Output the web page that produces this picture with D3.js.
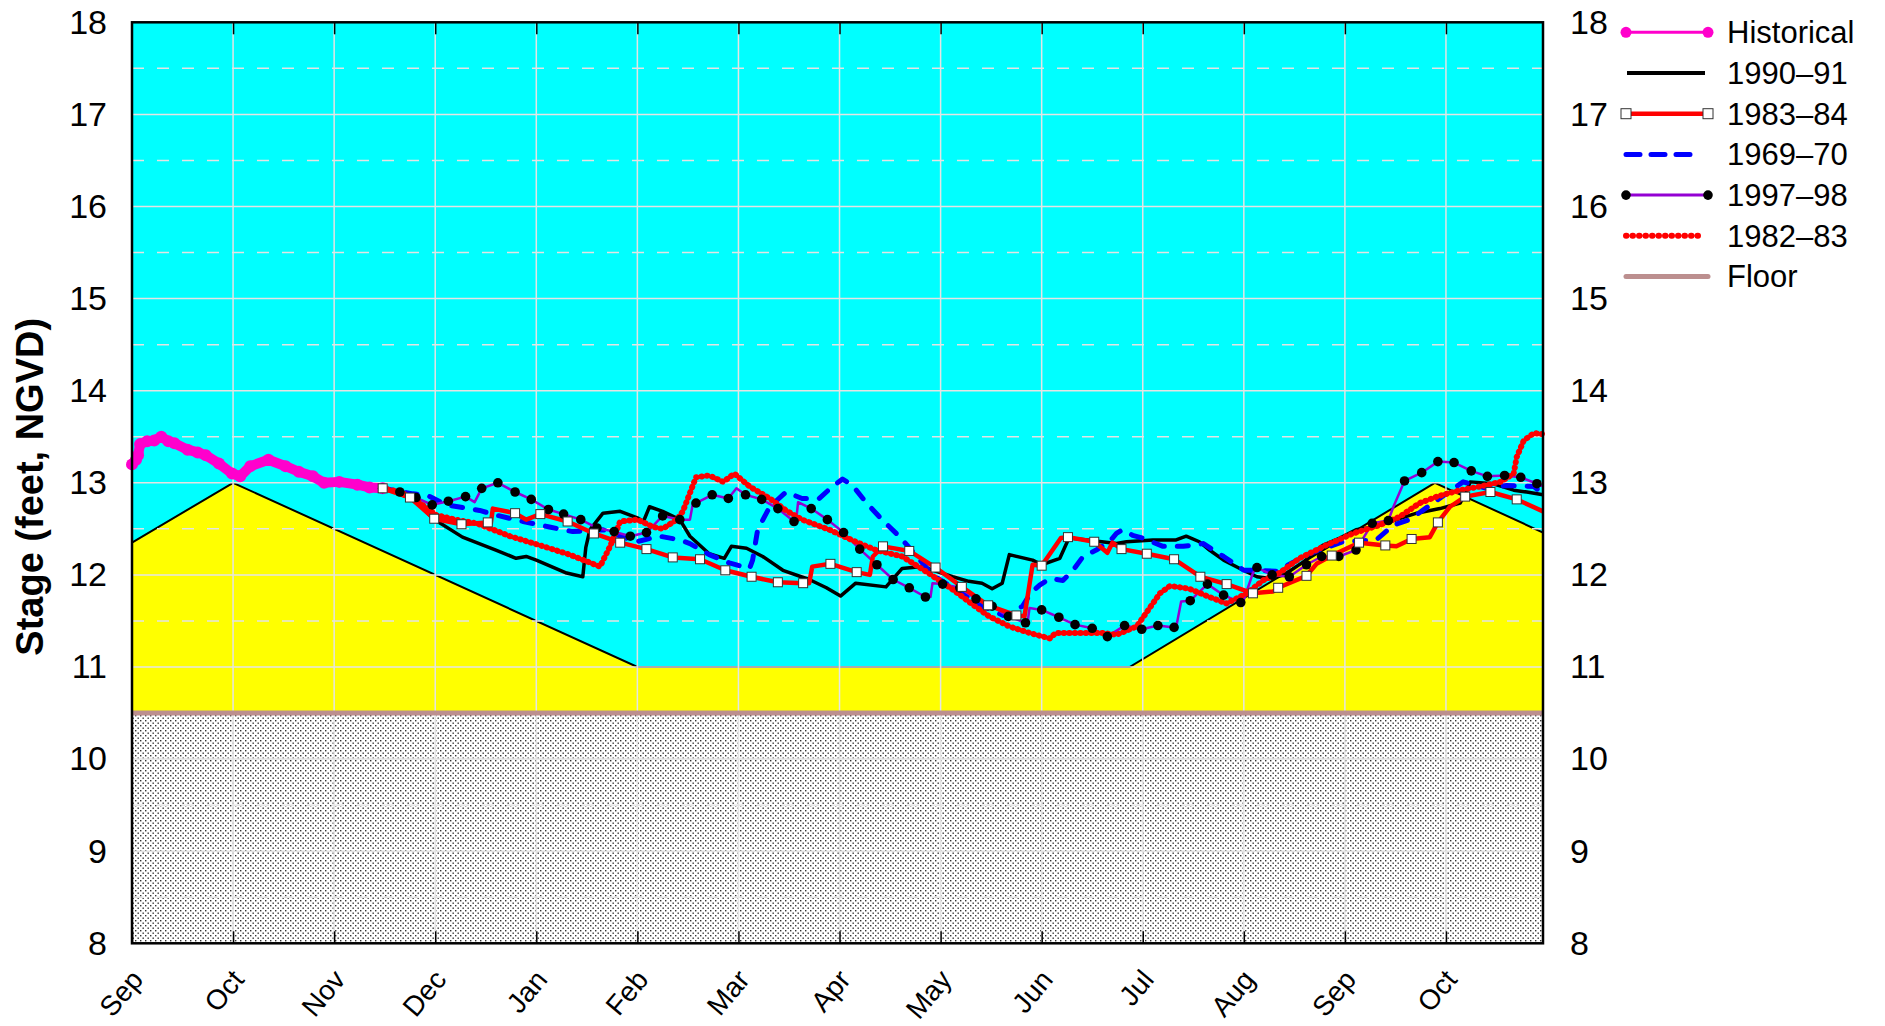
<!DOCTYPE html>
<html>
<head>
<meta charset="utf-8">
<script src="https://cdn.jsdelivr.net/npm/d3@7"></script>
<style>
  body { margin: 0; background: #fff; }
  svg text { font-family: "Liberation Sans", Arial, sans-serif; fill: #000; }
</style>
</head>
<body>
<div id="chart"></div>
<script>
// month index: 0 = 1 Sep, 1 = 1 Oct, ... (14 months shown)
const months = ["Sep", "Oct", "Nov", "Dec", "Jan", "Feb", "Mar", "Apr", "May", "Jun", "Jul", "Aug", "Sep", "Oct"];
const stageTicks = [8, 9, 10, 11, 12, 13, 14, 15, 16, 17, 18];
const floorStage = 10.5;

// regulation schedule (top of yellow zone)
const ruleCurve = [[0, 12.35], [1, 13], [5, 11], [9.87, 11], [12.89, 13], [13.96, 12.46]];

const historical = [[0.0, 13.2], [0.04, 13.25], [0.06, 13.3], [0.08, 13.42], [0.15, 13.45], [0.22, 13.46],
	[0.29, 13.5], [0.36, 13.45], [0.42, 13.43], [0.55, 13.36], [0.65, 13.33], [0.73, 13.3], [0.86, 13.21],
	[0.99, 13.1], [1.07, 13.07], [1.17, 13.18], [1.35, 13.25], [1.52, 13.18], [1.65, 13.12], [1.79, 13.07],
	[1.9, 13.0], [2.05, 13.01], [2.23, 12.98], [2.35, 12.95], [2.48, 12.94]];

const y9091 = [[2.48, 12.94], [2.65, 12.88], [2.81, 12.8], [2.98, 12.61], [3.27, 12.41], [3.6, 12.27],
	[3.8, 12.18], [3.9, 12.2], [4.0, 12.16], [4.3, 12.02], [4.46, 11.98], [4.49, 12.3], [4.53, 12.49],
	[4.66, 12.67], [4.83, 12.69], [5.0, 12.62], [5.06, 12.58], [5.12, 12.74], [5.25, 12.69], [5.42, 12.6],
	[5.52, 12.42], [5.71, 12.23], [5.86, 12.18], [5.93, 12.31], [6.08, 12.29], [6.24, 12.2], [6.44, 12.05],
	[6.7, 11.95], [6.87, 11.86], [7.01, 11.77], [7.16, 11.91], [7.46, 11.87], [7.62, 12.07], [7.82, 12.09],
	[8.12, 11.98], [8.28, 11.93], [8.41, 11.91], [8.51, 11.85], [8.61, 11.91], [8.68, 12.22], [8.91, 12.16],
	[9.0, 12.11], [9.18, 12.18], [9.27, 12.4], [9.45, 12.38], [9.74, 12.34], [9.84, 12.36], [10.1, 12.38],
	[10.33, 12.38], [10.43, 12.42], [10.56, 12.36], [10.66, 12.27], [10.8, 12.16], [10.96, 12.07],
	[11.13, 11.98], [11.26, 11.96], [11.4, 12.0], [11.6, 12.15], [11.78, 12.32], [11.95, 12.4], [12.11, 12.49],
	[12.28, 12.52], [12.48, 12.59], [12.71, 12.67], [12.94, 12.72], [13.14, 12.78], [13.2, 12.9],
	[13.24, 13.01], [13.47, 12.99], [13.67, 12.92], [13.8, 12.9], [13.96, 12.87]];

// 1983-84: weekly values (squares) plus in-between readings
const y8384Weekly = [[2.48, 12.94], [2.75, 12.84], [2.99, 12.61], [3.26, 12.55], [3.52, 12.57], [3.79, 12.67],
	[4.04, 12.66], [4.31, 12.58], [4.57, 12.45], [4.83, 12.35], [5.09, 12.28], [5.35, 12.19], [5.62, 12.17],
	[5.87, 12.05], [6.13, 11.98], [6.39, 11.92], [6.64, 11.91], [6.91, 12.12], [7.17, 12.03], [7.43, 12.31],
	[7.69, 12.26], [7.95, 12.08], [8.21, 11.87], [8.47, 11.67], [8.75, 11.56], [9.0, 12.1], [9.26, 12.41],
	[9.52, 12.36], [9.79, 12.28], [10.04, 12.23], [10.31, 12.17], [10.57, 11.98], [10.83, 11.9], [11.09, 11.8],
	[11.34, 11.86], [11.62, 11.99], [11.87, 12.21], [12.14, 12.35], [12.4, 12.32], [12.66, 12.39],
	[12.92, 12.57], [13.19, 12.85], [13.44, 12.9], [13.7, 12.82]];
const y8384Daily = [[3.55, 12.56], [3.57, 12.72], [3.9, 12.6], [6.7, 11.91], [6.73, 12.09], [7.3, 12.0],
	[7.33, 12.2], [8.83, 11.55], [8.91, 12.11], [9.19, 12.4], [9.65, 12.24], [9.7, 12.35], [11.29, 11.82],
	[11.72, 12.12], [12.51, 12.31], [12.84, 12.41], [13.04, 12.74], [13.96, 12.69]];

const y6970 = [[2.48, 12.94], [2.78, 12.88], [2.91, 12.87], [3.11, 12.76], [3.44, 12.7], [3.6, 12.65],
	[3.87, 12.58], [4.13, 12.52], [4.36, 12.47], [4.66, 12.49], [4.99, 12.36], [5.22, 12.42], [5.42, 12.38],
	[5.52, 12.34], [5.71, 12.22], [5.91, 12.13], [6.11, 12.07], [6.14, 12.16], [6.19, 12.49], [6.31, 12.74],
	[6.47, 12.9], [6.63, 12.83], [6.8, 12.83], [6.93, 12.96], [7.03, 13.04], [7.13, 12.97], [7.26, 12.79],
	[7.42, 12.6], [7.59, 12.42], [7.75, 12.22], [7.92, 12.0], [8.05, 11.91], [8.22, 11.8], [8.35, 11.69],
	[8.5, 11.62], [8.62, 11.56], [8.68, 11.58], [8.81, 11.66], [8.89, 11.8], [8.98, 11.89], [9.08, 11.96],
	[9.21, 11.94], [9.31, 12.05], [9.41, 12.2], [9.54, 12.27], [9.67, 12.36], [9.74, 12.45], [9.8, 12.49],
	[9.9, 12.43], [10.0, 12.4], [10.2, 12.31], [10.4, 12.31], [10.6, 12.34], [10.8, 12.2], [11.0, 12.05],
	[11.13, 12.05], [11.32, 12.04], [11.65, 12.23], [11.98, 12.36], [12.31, 12.38], [12.48, 12.54],
	[12.64, 12.6], [12.91, 12.81], [13.17, 13.01], [13.4, 12.94], [13.6, 12.97], [13.87, 12.96], [13.96, 12.88]];

// 1997-98: 5-day values (dots) plus in-between readings
const y9798Dots = [[2.48, 12.94], [2.65, 12.9], [2.81, 12.84], [2.97, 12.76], [3.13, 12.8], [3.3, 12.85],
	[3.46, 12.94], [3.62, 13.0], [3.79, 12.9], [3.95, 12.82], [4.12, 12.71], [4.27, 12.66], [4.44, 12.6],
	[4.6, 12.51], [4.77, 12.47], [4.93, 12.42], [5.09, 12.46], [5.25, 12.64], [5.42, 12.6], [5.58, 12.78],
	[5.74, 12.87], [5.9, 12.83], [6.07, 12.87], [6.23, 12.82], [6.39, 12.72], [6.55, 12.58], [6.72, 12.72],
	[6.88, 12.6], [7.04, 12.46], [7.2, 12.28], [7.37, 12.11], [7.53, 11.95], [7.69, 11.86], [7.85, 11.76],
	[8.02, 11.9], [8.19, 11.86], [8.35, 11.74], [8.51, 11.66], [8.67, 11.55], [8.84, 11.48], [9.0, 11.62],
	[9.17, 11.54], [9.33, 11.46], [9.5, 11.42], [9.65, 11.33], [9.82, 11.45], [9.99, 11.41], [10.15, 11.45],
	[10.31, 11.43], [10.47, 11.72], [10.64, 11.9], [10.8, 11.78], [10.97, 11.7], [11.13, 12.08], [11.28, 12.0],
	[11.45, 11.98], [11.62, 12.11], [11.77, 12.2], [11.94, 12.2], [12.11, 12.27], [12.27, 12.56],
	[12.43, 12.59], [12.59, 13.02], [12.76, 13.11], [12.92, 13.23], [13.08, 13.22], [13.25, 13.13],
	[13.41, 13.07], [13.58, 13.08], [13.74, 13.06], [13.9, 12.99]];
const y9798Daily = [[3.39, 12.79], [5.52, 12.6], [5.55, 12.78], [5.98, 12.94], [6.57, 12.58], [6.59, 12.79],
	[7.9, 11.76], [7.92, 11.91], [8.86, 11.48], [8.88, 11.64], [10.33, 11.43], [10.38, 11.71], [10.99, 11.7],
	[11.09, 12.02], [12.48, 12.74], [13.96, 12.96]];

const y8283 = [[2.48, 12.94], [2.65, 12.9], [2.81, 12.81], [3.01, 12.65], [3.2, 12.6], [3.41, 12.56],
	[3.74, 12.42], [4.07, 12.31], [4.33, 12.22], [4.63, 12.09], [4.73, 12.31], [4.83, 12.58], [5.0, 12.6],
	[5.16, 12.52], [5.25, 12.5], [5.39, 12.6], [5.45, 12.69], [5.58, 13.06], [5.71, 13.08], [5.85, 13.01],
	[5.96, 13.1], [6.11, 12.96], [6.31, 12.83], [6.47, 12.7], [6.63, 12.6], [6.9, 12.49], [7.16, 12.36],
	[7.36, 12.27], [7.62, 12.2], [7.88, 12.02], [8.12, 11.84], [8.34, 11.66], [8.48, 11.55], [8.68, 11.44],
	[8.88, 11.37], [9.08, 11.31], [9.14, 11.37], [9.27, 11.37], [9.6, 11.37], [9.74, 11.35], [9.94, 11.44],
	[10.03, 11.58], [10.17, 11.8], [10.27, 11.88], [10.46, 11.85], [10.66, 11.76], [10.83, 11.69],
	[11.03, 11.8], [11.19, 11.94], [11.35, 12.02], [11.55, 12.18], [11.81, 12.32], [12.08, 12.45],
	[12.34, 12.54], [12.54, 12.63], [12.74, 12.78], [12.91, 12.85], [13.14, 12.92], [13.34, 12.96],
	[13.54, 13.01], [13.67, 13.1], [13.7, 13.28], [13.77, 13.46], [13.87, 13.54], [13.95, 13.53]];

const legendNames = ["Historical", "1990\u201391", "1983\u201384", "1969\u201370", "1997\u201398", "1982\u201383", "Floor"];

const W = 1885, H = 1026;
const pl = 132, pr = 1543, pt = 22.3, pb = 943.3;

const svg = d3.select("#chart").append("svg")
	.attr("width", W)
	.attr("height", H);

const x = d3.scaleLinear().domain([0, 13.96]).range([pl, pr]);
const y = d3.scaleLinear().domain([8, 18]).range([pb, pt]);

const defs = svg.append("defs");
const pat = defs.append("pattern")
	.attr("id", "stipple")
	.attr("patternUnits", "userSpaceOnUse")
	.attr("width", 5).attr("height", 5);
pat.append("rect").attr("width", 5).attr("height", 5).attr("fill", "#fff");
pat.append("rect").attr("x", 0).attr("y", 0).attr("width", 1.4).attr("height", 1.4).attr("fill", "#333");
pat.append("rect").attr("x", 2.5).attr("y", 2.5).attr("width", 1.4).attr("height", 1.4).attr("fill", "#333");

// zones: cyan above schedule, yellow between schedule and floor, stipple below floor
svg.append("rect")
	.attr("x", pl).attr("y", y(18))
	.attr("width", pr - pl).attr("height", y(floorStage) - y(18))
	.attr("fill", "#00ffff");

svg.append("path")
	.datum(ruleCurve)
	.attr("fill", "#ffff00")
	.attr("d", d3.area().x(d => x(d[0])).y0(y(floorStage)).y1(d => y(d[1])));

svg.append("rect")
	.attr("x", pl).attr("y", y(floorStage))
	.attr("width", pr - pl).attr("height", y(8) - y(floorStage))
	.attr("fill", "url(#stipple)");

svg.append("path")
	.datum(ruleCurve)
	.attr("fill", "none")
	.attr("stroke", "#000")
	.attr("stroke-width", 2)
	.attr("d", d3.line().x(d => x(d[0])).y(d => y(d[1])));

// grid
const grid = svg.append("g").attr("stroke", "#e4e4e4").attr("stroke-width", 1.5);
grid.selectAll(".vg")
	.data(d3.range(1, 14))
	.enter().append("line")
	.attr("x1", d => x(d)).attr("x2", d => x(d))
	.attr("y1", pt).attr("y2", pb);
grid.selectAll(".hg")
	.data(d3.range(8.5, 18, 0.5))
	.enter().append("line")
	.attr("x1", pl).attr("x2", pr)
	.attr("y1", d => y(d)).attr("y2", d => y(d))
	.attr("stroke-dasharray", d => d % 1 ? "12,13" : null);

svg.append("line")
	.attr("x1", pl).attr("x2", pr)
	.attr("y1", y(floorStage)).attr("y2", y(floorStage))
	.attr("stroke", "#bc8f8f").attr("stroke-width", 5);

const line = d3.line().x(d => x(d[0])).y(d => y(d[1]));
const byMonth = (a, b) => a[0] - b[0];

svg.append("path").datum(historical)
	.attr("fill", "none").attr("stroke", "#ff00cc").attr("stroke-width", 10)
	.attr("stroke-linejoin", "round").attr("stroke-linecap", "round")
	.attr("d", line);
svg.selectAll(".hist").data(historical).enter().append("circle")
	.attr("cx", d => x(d[0])).attr("cy", d => y(d[1])).attr("r", 6).attr("fill", "#ff00cc");

svg.append("path").datum(y9091)
	.attr("fill", "none").attr("stroke", "#000").attr("stroke-width", 3.5)
	.attr("stroke-linejoin", "round").attr("d", line);

svg.append("path").datum(y6970)
	.attr("fill", "none").attr("stroke", "#0000ff").attr("stroke-width", 5)
	.attr("stroke-dasharray", "11,13").attr("stroke-linecap", "round")
	.attr("stroke-linejoin", "round").attr("d", line);

svg.append("path").datum(y9798Dots.concat(y9798Daily).sort(byMonth))
	.attr("fill", "none").attr("stroke", "#9400d3").attr("stroke-width", 2.5)
	.attr("stroke-linejoin", "round").attr("d", line);

svg.append("path").datum(y8384Weekly.concat(y8384Daily).sort(byMonth))
	.attr("fill", "none").attr("stroke", "#ff0000").attr("stroke-width", 4.5)
	.attr("stroke-linejoin", "round").attr("d", line);

svg.append("path").datum(y8283)
	.attr("fill", "none").attr("stroke", "#ff0000").attr("stroke-width", 6)
	.attr("stroke-dasharray", "0.5,5").attr("stroke-linecap", "round")
	.attr("stroke-linejoin", "round").attr("d", line);

svg.selectAll(".dot9798").data(y9798Dots).enter().append("circle")
	.attr("cx", d => x(d[0])).attr("cy", d => y(d[1])).attr("r", 4.8).attr("fill", "#000");

svg.selectAll(".sq8384").data(y8384Weekly).enter().append("rect")
	.attr("x", d => x(d[0]) - 4.5).attr("y", d => y(d[1]) - 4.5)
	.attr("width", 9).attr("height", 9)
	.attr("fill", "#fff").attr("stroke", "#333").attr("stroke-width", 1);

// frame and axes
svg.append("rect")
	.attr("x", pl).attr("y", pt)
	.attr("width", pr - pl).attr("height", pb - pt)
	.attr("fill", "none").attr("stroke", "#000").attr("stroke-width", 2.5);

const xTop = svg.append("g")
	.attr("transform", `translate(0,${pt})`)
	.call(d3.axisTop(x).tickValues(d3.range(1, 14)).tickSize(-12).tickFormat(""));
xTop.select(".domain").remove();
xTop.selectAll("line").attr("stroke-width", 1.5);

const xBot = svg.append("g")
	.attr("transform", `translate(0,${pb})`)
	.call(d3.axisBottom(x).tickValues(d3.range(0, 14)).tickSize(-12).tickFormat(i => months[i]));
xBot.select(".domain").remove();
xBot.selectAll("line").attr("stroke-width", 1.5);
xBot.selectAll("text")
	.attr("font-size", 28)
	.attr("text-anchor", "end")
	.attr("y", 0).attr("dy", 0)
	.attr("transform", "translate(12,37) rotate(-50)");

const yLeft = svg.append("g")
	.attr("transform", `translate(${pl},0)`)
	.call(d3.axisLeft(y).tickValues(stageTicks).tickSize(0).tickPadding(25).tickFormat(d3.format("d")));
yLeft.select(".domain").remove();
yLeft.selectAll("text").attr("font-size", 34);

const yRight = svg.append("g")
	.attr("transform", `translate(${pr},0)`)
	.call(d3.axisRight(y).tickValues(stageTicks).tickSize(0).tickPadding(27).tickFormat(d3.format("d")));
yRight.select(".domain").remove();
yRight.selectAll("text").attr("font-size", 34);

svg.append("text")
	.attr("transform", `translate(43,${(pt + pb) / 2 + 4}) rotate(-90)`)
	.attr("text-anchor", "middle")
	.attr("font-size", 38)
	.attr("font-weight", "bold")
	.text("Stage (feet, NGVD)");

// legend
const lg = svg.append("g").attr("transform", "translate(1626,32.3)");
const row = i => i * 40.7;
const item = lg.selectAll(".item")
	.data(legendNames)
	.enter().append("g")
	.attr("transform", (d, i) => `translate(0,${row(i)})`);
item.append("text")
	.attr("x", 101).attr("dy", "0.35em")
	.attr("font-size", 31)
	.text(d => d);

const seg = (g, color, width) => g.append("line")
	.attr("x1", 0).attr("x2", 82).attr("stroke", color).attr("stroke-width", width);

const rows = item.nodes().map(n => d3.select(n));
seg(rows[0], "#ff00cc", 3);
rows[0].selectAll("circle").data([0, 82]).enter().append("circle")
	.attr("cx", d => d).attr("r", 5.5).attr("fill", "#ff00cc");
seg(rows[1], "#000", 4).attr("x1", 1).attr("x2", 79);
seg(rows[2], "#ff0000", 4.5);
rows[2].selectAll("rect").data([0, 82]).enter().append("rect")
	.attr("x", d => d - 5).attr("y", -5).attr("width", 10).attr("height", 10)
	.attr("fill", "#fff").attr("stroke", "#333");
seg(rows[3], "#0000ff", 5).attr("x2", 66)
	.attr("stroke-dasharray", "14,11").attr("stroke-linecap", "round");
seg(rows[4], "#9400d3", 3);
rows[4].selectAll("circle").data([0, 82]).enter().append("circle")
	.attr("cx", d => d).attr("r", 4.8).attr("fill", "#000");
seg(rows[5], "#ff0000", 6).attr("x2", 74)
	.attr("stroke-dasharray", "0.5,6").attr("stroke-linecap", "round");
seg(rows[6], "#bc8f8f", 5).attr("stroke-linecap", "round");
</script>
</body>
</html>
